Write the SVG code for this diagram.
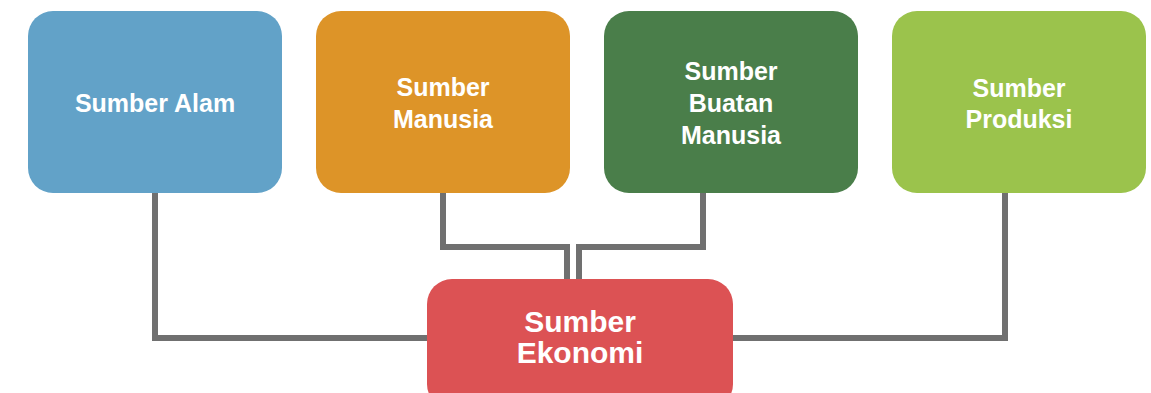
<svg xmlns="http://www.w3.org/2000/svg" width="1151" height="393" viewBox="0 0 1151 393">
<style>
.t{font-family:"Liberation Sans",Arial,sans-serif;font-weight:bold;fill:#fff;text-anchor:middle;font-size:25px}
.big{font-size:30px}
.c{fill:none;stroke:#707070;stroke-width:6}
</style>
<rect width="1151" height="393" fill="#fff"/>
<g id="connectors">
<polyline class="c" points="155,193 155,338 430,338"/>
<polyline class="c" points="1005,193 1005,338 730,338"/>
<polyline class="c" points="443,193 443,247 567,247 567,282"/>
<polyline class="c" points="703,193 703,247 579,247 579,282"/>
</g>
<g id="alam">
<rect x="28" y="11" width="254" height="182" rx="25" fill="#62A2C8"/>
<text class="t" x="155" y="112">Sumber Alam</text>
</g>
<g id="manusia">
<rect x="316" y="11" width="254" height="182" rx="25" fill="#DD9428"/>
<text class="t" x="443" y="96">Sumber</text>
<text class="t" x="443" y="128">Manusia</text>
</g>
<g id="buatan">
<rect x="604" y="11" width="254" height="182" rx="25" fill="#4A7E4A"/>
<text class="t" x="731" y="80">Sumber</text>
<text class="t" x="731" y="112">Buatan</text>
<text class="t" x="731" y="144">Manusia</text>
</g>
<g id="produksi">
<rect x="892" y="11" width="254" height="182" rx="25" fill="#9BC34C"/>
<text class="t" x="1019" y="97">Sumber</text>
<text class="t" x="1019" y="128">Produksi</text>
</g>
<g id="ekonomi">
<rect x="427" y="279" width="306" height="130" rx="25" fill="#DC5254"/>
<text class="t big" x="580" y="332">Sumber</text>
<text class="t big" x="580" y="363">Ekonomi</text>
</g>
</svg>
